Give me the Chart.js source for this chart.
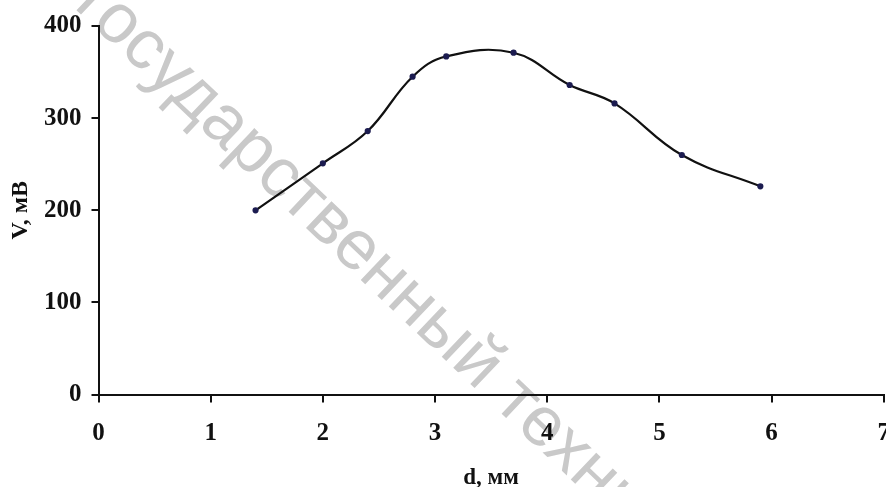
<!DOCTYPE html>
<html>
<head>
<meta charset="utf-8">
<script src="https://cdn.jsdelivr.net/npm/chart.js@4/dist/chart.umd.min.js"></script>
<style>
    html, body { margin: 0; padding: 0; background: #fff; overflow: hidden; }
</style>
</head>
<body>
<canvas id="mycanvas" width="906" height="487"></canvas>
<script>
// d, мм and V, мВ
const dValues = [1.4, 2.0, 2.4, 2.8, 3.1, 3.7, 4.2, 4.6, 5.2, 5.9];
const vValues = [200, 251, 286, 345, 367, 371, 336, 316, 260, 226];
const xTicks = [0, 1, 2, 3, 4, 5, 6, 7];
const yTicks = [0, 100, 200, 300, 400];
const watermark = "государственный технический университет";

const points = dValues.map((d, i) => ({ x: d, y: vValues[i] }));

// light grey diagonal text behind the plot
const watermarkPlugin = {
    id: "watermark",
    beforeDraw(chart) {
        const c = chart.ctx;
        c.save();
        c.translate(73, 7);
        c.rotate(43.5 * Math.PI / 180);
        c.font = "70px 'Liberation Sans', Arial, sans-serif";
        c.fillStyle = "#c9c9c9";
        c.textBaseline = "alphabetic";
        c.fillText(watermark, 0, 0);
        c.restore();
    }
};

const ctx = document.getElementById("mycanvas").getContext("2d");
const serif = "'Liberation Serif', 'Times New Roman', serif";

var chart = new Chart(ctx, {
    type: "line",
    data: {
        datasets: [
            {
                data: points,
                borderColor: "#111111",
                borderWidth: 2.2,
                tension: 0.4,
                pointRadius: 2,
                pointBackgroundColor: "#1c1c50",
                pointBorderColor: "#1c1c50",
                fill: false
            }
        ]
    },
    options: {
        responsive: false,
        animation: false,
        layout: {
            padding: { top: 26, left: 0, right: 0, bottom: 0 }
        },
        plugins: {
            legend: { display: false },
            tooltip: { enabled: false }
        },
        scales: {
            x: {
                type: "linear",
                min: 0,
                max: 7,
                afterBuildTicks: (axis) => { axis.ticks = xTicks.map(v => ({ value: v })); },
                ticks: { color: "#111", font: { family: serif, size: 25, weight: "bold" }, padding: 16, maxRotation: 0 },
                grid: { drawOnChartArea: false, drawTicks: true, tickLength: 8, color: "#111", lineWidth: 2 },
                border: { color: "#111", width: 2 },
                title: {
                    display: true,
                    text: "d, мм",
                    color: "#111",
                    font: { family: serif, size: 23, weight: "bold", lineHeight: 0.8 },
                    padding: { top: 4, bottom: 0 }
                }
            },
            y: {
                min: 0,
                max: 400,
                afterBuildTicks: (axis) => { axis.ticks = yTicks.map(v => ({ value: v })); },
                ticks: { color: "#111", font: { family: serif, size: 25, weight: "bold" }, padding: 10 },
                grid: { drawOnChartArea: false, drawTicks: true, tickLength: 7, color: "#111", lineWidth: 2 },
                border: { color: "#111", width: 2 },
                title: {
                    display: true,
                    text: "V, мВ",
                    color: "#111",
                    font: { family: serif, size: 24, weight: "bold", lineHeight: 1 },
                    padding: { top: 9, bottom: 1 }
                }
            }
        }
    },
    plugins: [watermarkPlugin]
});
</script>
</body>
</html>
